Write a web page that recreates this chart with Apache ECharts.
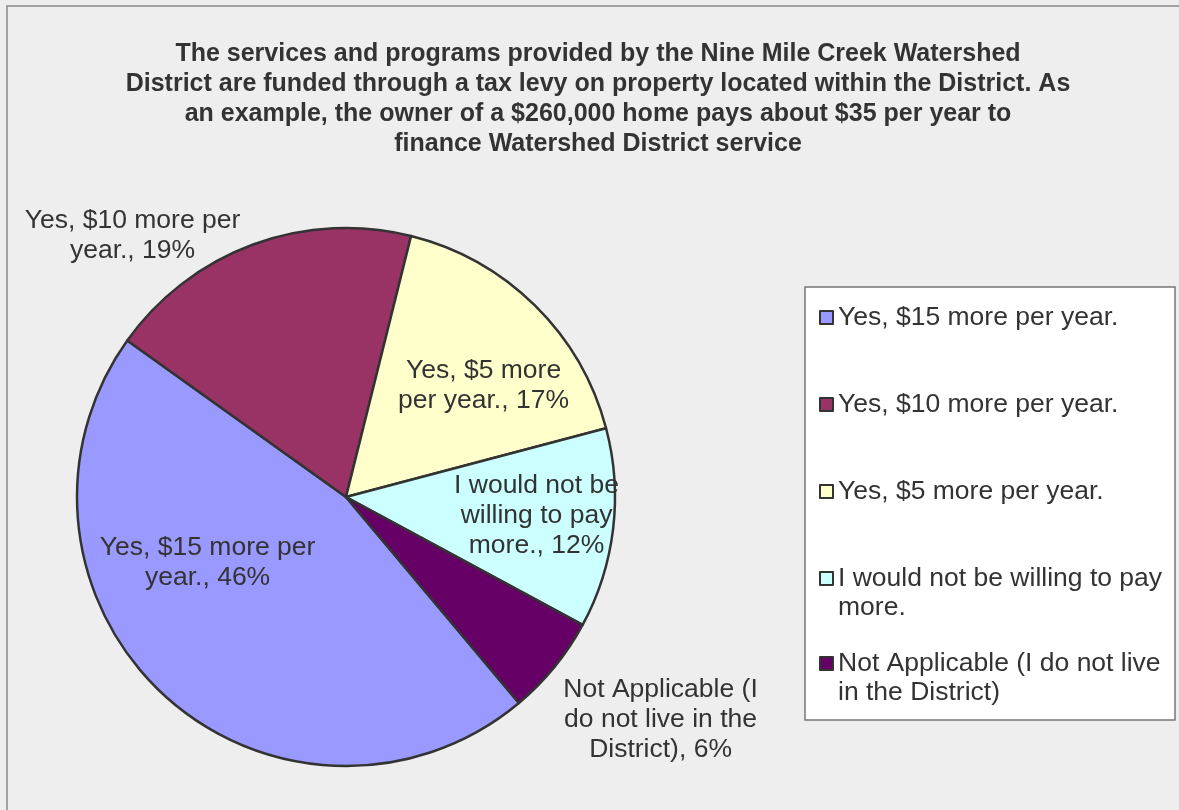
<!DOCTYPE html>
<html lang="en">

<head>
  <meta charset="UTF-8">
  <title>Nine Mile Creek Watershed District survey</title>
  <style>
    html, body { margin: 0; padding: 0; background: #eeeeee; }
  </style>
</head>

<body>
  <div class="box" style="width: 1179px;height: 810px;"></div>

  <script src="https://cdn.jsdelivr.net/npm/echarts@6/dist/echarts.min.js"></script>
  <script>
    // data
    let categories = [
      'Yes, $15 more per year.',
      'Yes, $10 more per year.',
      'Yes, $5 more per year.',
      'I would not be willing to pay more.',
      'Not Applicable (I do not live in the District)'
    ]
    let percents = [46, 19, 17, 12, 6]
    // how the slice labels wrap in the picture
    let labelTexts = [
      'Yes, $15 more per\nyear., 46%',
      'Yes, $10 more per\nyear., 19%',
      'Yes, $5 more\nper year., 17%',
      'I would not be\nwilling to pay\nmore., 12%',
      'Not Applicable (I\ndo not live in the\nDistrict), 6%'
    ]
    let legendTexts = [
      'Yes, $15 more per year.',
      'Yes, $10 more per year.',
      'Yes, $5 more per year.',
      'I would not be willing to pay\nmore.',
      'Not Applicable (I do not live\nin the District)'
    ]
    let colors = ['#9999ff', '#993366', '#ffffcc', '#ccffff', '#660066']
    let titleText = 'The services and programs provided by the Nine Mile Creek Watershed\n' +
      'District are funded through a tax levy on property located within the District. As\n' +
      'an example, the owner of a $260,000 home pays about $35 per year to\n' +
      'finance Watershed District service'

    // label nudges from the slice midpoint, and legend rows
    let labelShift = [[-45, -35], [-166, -132], [41, -13], [54, 2], [208, 136]]
    let legendTops = [303, 390, 477, 564, 649]

    let font = '"Liberation Sans", Arial, sans-serif'
    let myChart = echarts.init(document.querySelector('.box'))

    let legends = categories.map(function (name, i) {
      let twoLines = legendTexts[i].indexOf('\n') >= 0
      return {
        data: [name],
        left: 819,
        top: twoLines ? legendTops[i] - 29 : legendTops[i],
        orient: 'vertical',
        icon: 'rect',
        itemWidth: 13,
        itemHeight: 13,
        itemGap: 0,
        padding: 0,
        itemStyle: { borderColor: '#333', borderWidth: 2 },
        // a blank first line keeps the square level with the first text line
        formatter: function () { return twoLines ? '\n' + legendTexts[i] : legendTexts[i] },
        textStyle: {
          fontFamily: font,
          fontSize: 26.5,
          color: '#333',
          lineHeight: 29
        }
      }
    })

    let option = {
      backgroundColor: '#eeeeee',
      animation: false,
      color: colors,
      title: {
        text: titleText,
        left: 593,
        top: 34,
        textAlign: 'center',
        textStyle: {
          fontFamily: font,
          fontSize: 25,
          fontWeight: 'bold',
          color: '#333',
          lineHeight: 30
        }
      },
      graphic: [
        {
          type: 'rect',
          shape: { x: 7, y: 6, width: 1180, height: 820 },
          style: { fill: 'none', stroke: '#888', lineWidth: 1.5 },
          silent: true
        },
        {
          type: 'rect',
          shape: { x: 805, y: 287, width: 370, height: 433 },
          style: { fill: '#fff', stroke: '#777', lineWidth: 1.5 },
          silent: true,
          z: -1
        }
      ],
      legend: legends,
      series: [{
        type: 'pie',
        center: [346, 497],
        radius: 269,
        startAngle: -50,
        clockwise: true,
        data: categories.map(function (name, i) {
          return { name: name, value: percents[i] }
        }),
        itemStyle: { borderColor: '#333', borderWidth: 2.5 },
        label: {
          position: 'inside',
          fontFamily: font,
          fontSize: 26.5,
          color: '#333',
          lineHeight: 30,
          align: 'center',
          formatter: function (p) { return labelTexts[p.dataIndex] }
        },
        labelLine: { show: false },
        emphasis: { scale: false },
        labelLayout: function (p) {
          return { dx: labelShift[p.dataIndex][0], dy: labelShift[p.dataIndex][1] }
        }
      }]
    }
    myChart.setOption(option)
  </script>
</body>

</html>
